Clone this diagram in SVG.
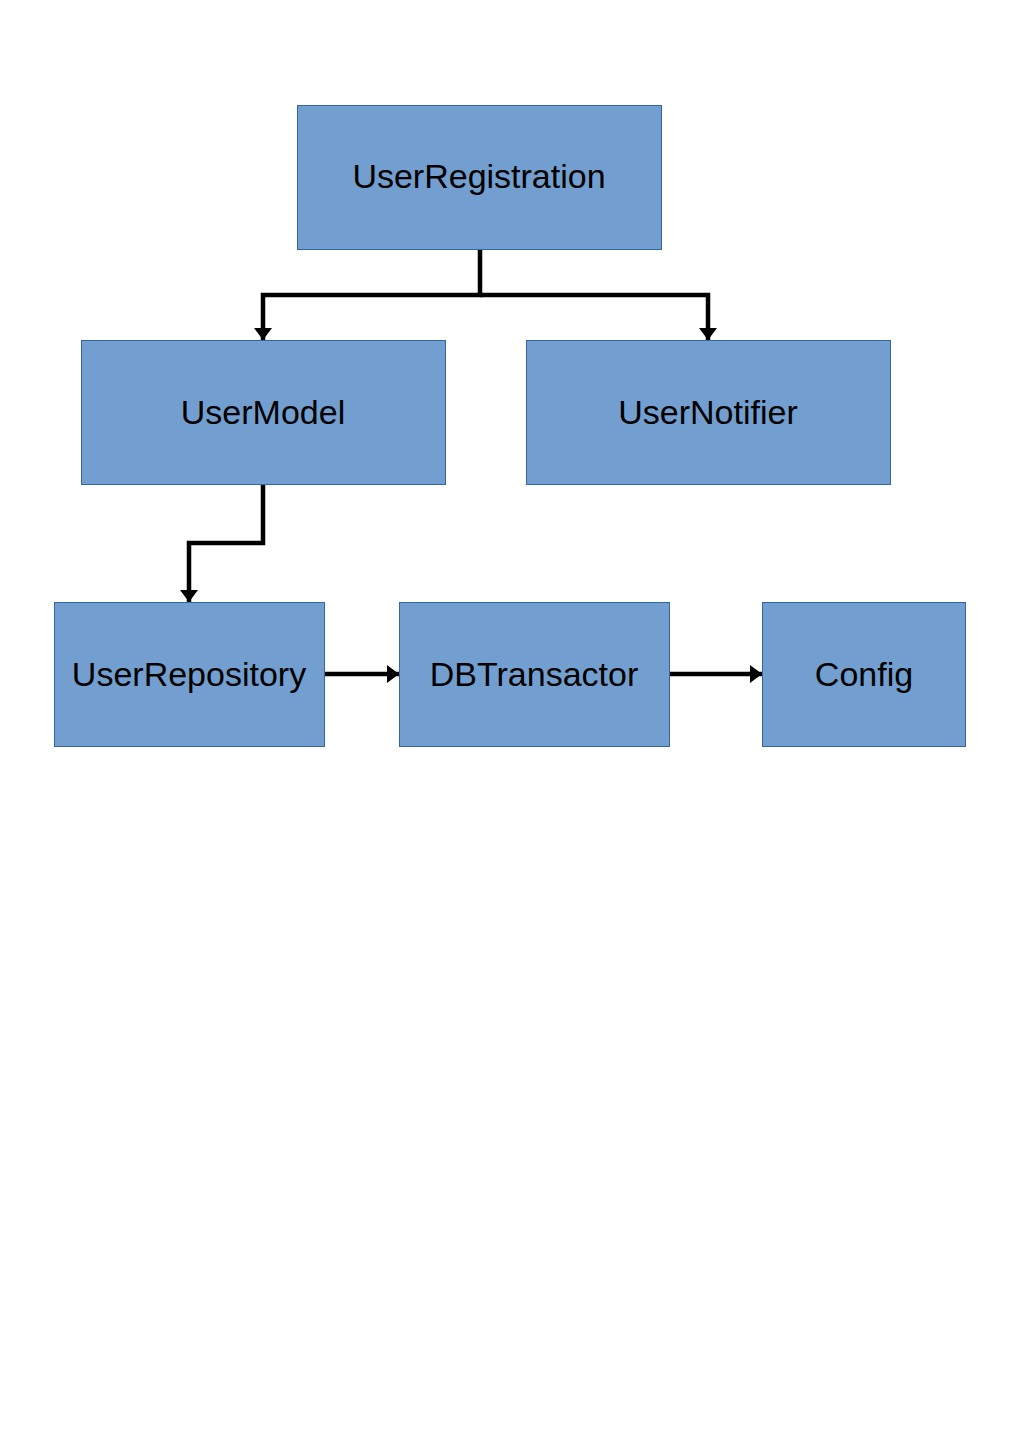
<svg xmlns="http://www.w3.org/2000/svg" width="1025" height="1450" viewBox="0 0 1025 1450">
<style>
.box{fill:#729fcf;stroke:#3465a4;stroke-width:1}
.lbl{font-family:"Liberation Sans",Arial,sans-serif;font-size:34px;fill:#000;text-anchor:middle}
.conn{fill:none;stroke:#000;stroke-width:4.5}
</style>
<defs>
<marker id="ah" viewBox="0 0 12 18" refX="12" refY="9" markerWidth="12" markerHeight="18" markerUnits="userSpaceOnUse" orient="auto">
<path d="M0,0 L12,9 L0,18 Z" fill="#000"/>
</marker>
</defs>
<rect width="1025" height="1450" fill="#fff"/>
<g id="connectors">
<path class="conn" d="M480,249 V295 H263 V340" marker-end="url(#ah)"/>
<path class="conn" d="M480,295 H708 V340" marker-end="url(#ah)"/>
<path class="conn" d="M263,484 V543 H189 V602" marker-end="url(#ah)"/>
<path class="conn" d="M324,674 H399" marker-end="url(#ah)"/>
<path class="conn" d="M669,674 H762" marker-end="url(#ah)"/>
</g>
<g id="UserRegistration"><rect class="box" x="297.5" y="105.5" width="364" height="144"/><text class="lbl" x="479" y="188">UserRegistration</text></g>
<g id="UserModel"><rect class="box" x="81.5" y="340.5" width="364" height="144"/><text class="lbl" x="263" y="424">UserModel</text></g>
<g id="UserNotifier"><rect class="box" x="526.5" y="340.5" width="364" height="144"/><text class="lbl" x="708" y="424">UserNotifier</text></g>
<g id="UserRepository"><rect class="box" x="54.5" y="602.5" width="270" height="144"/><text class="lbl" x="189" y="686">UserRepository</text></g>
<g id="DBTransactor"><rect class="box" x="399.5" y="602.5" width="270" height="144"/><text class="lbl" x="534" y="686">DBTransactor</text></g>
<g id="Config"><rect class="box" x="762.5" y="602.5" width="203" height="144"/><text class="lbl" x="864" y="686">Config</text></g>
</svg>
